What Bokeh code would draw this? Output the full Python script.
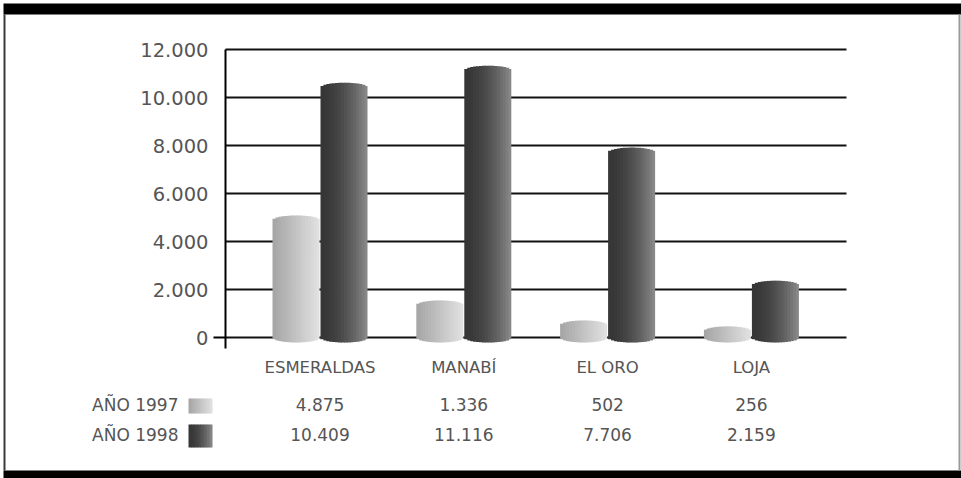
import math

from bokeh.core.properties import value
from bokeh.embed import file_html
from bokeh.models import ColumnDataSource, FixedTicker, LinearAxis, Range1d
from bokeh.plotting import figure
from bokeh.resources import INLINE

# ---- data -------------------------------------------------------------
provinces = ["ESMERALDAS", "MANABÍ", "EL ORO", "LOJA"]
series_names = ["AÑO 1997", "AÑO 1998"]
values_1997 = [4875, 1336, 502, 256]
values_1998 = [10409, 11116, 7706, 2159]
labels_1997 = ["4.875", "1.336", "502", "256"]
labels_1998 = ["10.409", "11.116", "7.706", "2.159"]
y_ticks = [0, 2000, 4000, 6000, 8000, 10000, 12000]
y_tick_labels = ["0", "2.000", "4.000", "6.000", "8.000", "10.000", "12.000"]

# ---- canvas geometry (pixels) ------------------------------------------
W, H = 961, 478
ZERO_PX = 337.0            # where value 0 sits
PX_PER_UNIT = 48.0 / 2000  # vertical scale
X0_PX = 319.5              # centre of the first province group
PX_PER_CAT = 143.8         # spacing between province groups
AXIS_PX = 225              # y axis position
PLOT_RIGHT_PX = 846        # end of the horizontal rules
AXIS_BOTTOM_PX = 348


def cx(px):
    """canvas x pixel -> data x"""
    return (px - X0_PX) / PX_PER_CAT


def cy(py):
    """canvas y pixel -> data y"""
    return (ZERO_PX - py) / PX_PER_UNIT


FONT_NAME = "DejaVu Sans"
FONT = value(FONT_NAME)
TEXT_COLOR = "#555555"

p = figure(width=W, height=H, output_backend="svg", toolbar_location=None,
           x_range=Range1d(cx(0), cx(W)), y_range=Range1d(cy(H), cy(0)),
           x_axis_type=None, y_axis_type=None,
           min_border=0, min_border_left=0, min_border_right=0,
           min_border_top=0, min_border_bottom=0)
p.outline_line_color = None
p.background_fill_color = "white"
p.border_fill_color = "white"

# ---- outer frame: heavy black bands top and bottom, thin sides --------
p.quad(left=[cx(3), cx(3), cx(3), cx(958)],
       right=[cx(961), cx(961), cx(5), cx(960)],
       top=[cy(3), cy(470), cy(14), cy(14)],
       bottom=[cy(14), cy(478), cy(470), cy(470)],
       fill_color=["black", "black", "#3a3a3a", "#9a9a9a"],
       line_color=None)

# ---- horizontal rules at every tick --------------------------------------
p.segment(x0=cx(AXIS_PX), x1=cx(PLOT_RIGHT_PX), y0=y_ticks, y1=y_ticks,
          line_color="#111111", line_width=2)

# ---- shaded cylinders ---------------------------------------------------
BAR_W = 47 / PX_PER_CAT
OFFSET = 24 / PX_PER_CAT
CAP = 5 / PX_PER_UNIT
STRIPS = 16
SEAM = 0.8 / PX_PER_CAT    # small overlap so strips join without hairlines


def shade_light(s):
    g = int(round(164 + 62 * s))
    return "#%02x%02x%02x" % (g, g, g)


def shade_dark(s):
    g = int(round(54 + 86 * s ** 1.8))
    return "#%02x%02x%02x" % (g, g, g)


cyl = dict(left=[], right=[], top=[], bottom=[], color=[])
for vals, off, shade in ((values_1997, -OFFSET, shade_light),
                         (values_1998, OFFSET, shade_dark)):
    for i, v in enumerate(vals):
        x_left = i + off - BAR_W / 2
        for k in range(STRIPS):
            t = -1 + (2 * k + 1) / STRIPS
            e = CAP * math.sqrt(max(0.0, 1 - t * t))
            right = x_left + (k + 1) * BAR_W / STRIPS
            if k < STRIPS - 1:
                right += SEAM
            cyl["left"].append(x_left + k * BAR_W / STRIPS)
            cyl["right"].append(right)
            cyl["top"].append(v + e)
            cyl["bottom"].append(-e)
            cyl["color"].append(shade((k + 0.5) / STRIPS))

p.quad(left="left", right="right", top="top", bottom="bottom",
       fill_color="color", line_color=None, source=ColumnDataSource(cyl))

# ---- axes ----------------------------------------------------------------
yaxis = LinearAxis(fixed_location=cx(AXIS_PX), bounds=(cy(AXIS_BOTTOM_PX), y_ticks[-1]),
                   ticker=FixedTicker(ticks=y_ticks),
                   major_label_overrides={t: lab for t, lab in zip(y_ticks, y_tick_labels)},
                   axis_line_color="black", axis_line_width=2,
                   major_tick_out=0, major_tick_in=0, minor_tick_out=0, minor_tick_in=0,
                   major_label_standoff=17,
                   major_label_text_font=FONT_NAME, major_label_text_font_size="19.5px",
                   major_label_text_color=TEXT_COLOR)
p.add_layout(yaxis, "left")

zero_tick = LinearAxis(fixed_location=cx(AXIS_PX), ticker=FixedTicker(ticks=[0]),
                       axis_line_color=None, major_tick_out=12, major_tick_in=0,
                       major_tick_line_color="black", major_tick_line_width=2,
                       minor_tick_out=0, minor_tick_in=0,
                       major_label_text_color=None)
p.add_layout(zero_tick, "left")

xaxis = LinearAxis(fixed_location=cy(AXIS_BOTTOM_PX),
                   ticker=FixedTicker(ticks=list(range(len(provinces)))),
                   major_label_overrides={i: name for i, name in enumerate(provinces)},
                   axis_line_color=None, major_tick_out=0, major_tick_in=0,
                   minor_tick_out=0, minor_tick_in=0, major_label_standoff=9,
                   major_label_text_font=FONT_NAME, major_label_text_font_size="16.5px",
                   major_label_text_color=TEXT_COLOR)
p.add_layout(xaxis, "below")

# ---- data table under the chart ----------------------------------------
ROW_PX = [404, 434]
idx = list(range(len(provinces)))
p.text(x=idx + idx, y=[cy(ROW_PX[0])] * len(idx) + [cy(ROW_PX[1])] * len(idx),
       text=labels_1997 + labels_1998, text_font=FONT, text_font_size="17px",
       text_color=TEXT_COLOR, text_align="center", text_baseline="middle")

p.text(x=[cx(178)] * 2, y=[cy(r) for r in ROW_PX], text=series_names,
       text_font=FONT, text_font_size="17px", text_color=TEXT_COLOR,
       text_align="right", text_baseline="middle")

# legend swatches with the same shading as the cylinders
sw = dict(left=[], right=[], top=[], bottom=[], color=[])
SW_STRIPS = 8
for r, shade, (y0, y1) in ((0, shade_light, (398, 413)), (1, shade_dark, (424, 447))):
    for k in range(SW_STRIPS):
        l_px = 188 + 24 * k / SW_STRIPS
        r_px = 188 + 24 * (k + 1) / SW_STRIPS + (0.8 if k < SW_STRIPS - 1 else 0)
        sw["left"].append(cx(l_px))
        sw["right"].append(cx(r_px))
        sw["top"].append(cy(y0))
        sw["bottom"].append(cy(y1))
        sw["color"].append(shade((k + 0.5) / SW_STRIPS))
p.quad(left="left", right="right", top="top", bottom="bottom",
       fill_color="color", line_color=None, source=ColumnDataSource(sw))

open("out.html", "w").write(file_html(p, INLINE))
